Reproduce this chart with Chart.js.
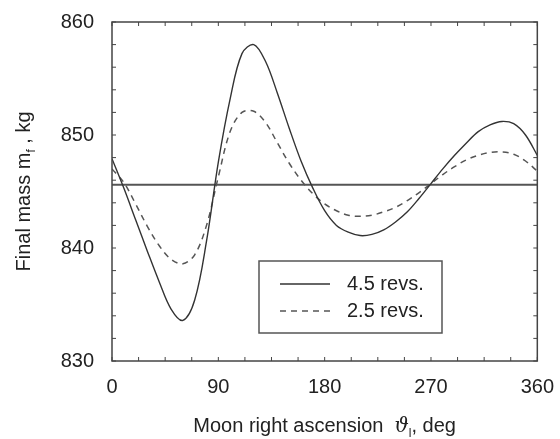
<!DOCTYPE html>
<html>
<head>
<meta charset="utf-8">
<script src="https://cdn.jsdelivr.net/npm/chart.js@4.4.0/dist/chart.umd.min.js"></script>
<style>
  html, body { margin: 0; padding: 0; background: #fff; }
  #wrap { width: 560px; height: 439px; }
</style>
</head>
<body>
<div id="wrap"><canvas id="chart" width="560" height="439"></canvas></div>
<script>
// data
var angles = [0, 10, 20, 30, 40, 50, 60, 70, 80, 90, 100, 110, 120, 130, 140, 150, 160, 170, 180,
  190, 200, 210, 220, 230, 240, 250, 260, 270, 280, 290, 300, 310, 320, 330, 340, 350, 360];
var mass45 = [847.9, 845.3, 842.5, 839.7, 837.0, 834.6, 833.6, 835.4, 840.6, 847.6, 853.2, 857.2, 858.0,
  856.5, 853.7, 850.6, 847.7, 845.3, 843.3, 842.0, 841.4, 841.1, 841.2, 841.6, 842.3, 843.2, 844.4,
  845.7, 847.0, 848.2, 849.3, 850.3, 850.9, 851.2, 851.0, 850.0, 848.2];
var mass25 = [847.0, 845.8, 843.9, 841.9, 840.2, 839.0, 838.6, 839.4, 842.0, 846.3, 850.3, 852.0, 852.1,
  851.1, 849.3, 847.5, 846.0, 844.8, 843.9, 843.3, 842.9, 842.8, 842.9, 843.2, 843.6, 844.2, 844.9,
  845.7, 846.5, 847.2, 847.8, 848.2, 848.45, 848.5, 848.3, 847.7, 846.8];
var refMass = 845.6;
var seriesLabels = ["4.5 revs.", "2.5 revs."];
var xTicks = [0, 90, 180, 270, 360];
var yTicks = [830, 840, 850, 860];

var FONT = "Liberation Sans, Arial, sans-serif";
var INK = "#222";

function pts(ys) {
  return angles.map(function (a, i) { return { x: a, y: ys[i] }; });
}

// frame, inward ticks, legend box and axis titles
var decor = {
  id: "decor",
  afterDraw: function (chart) {
    var ctx = chart.ctx, a = chart.chartArea;
    var xs = chart.scales.x, ys = chart.scales.y;
    ctx.save();
    ctx.strokeStyle = "#444";
    ctx.lineWidth = 1.5;
    ctx.strokeRect(a.left, a.top, a.right - a.left, a.bottom - a.top);

    ctx.lineWidth = 1;
    ctx.beginPath();
    for (var v = 0; v <= 360; v += 22.5) {
      var px = xs.getPixelForValue(v);
      ctx.moveTo(px, a.bottom); ctx.lineTo(px, a.bottom - 4);
      ctx.moveTo(px, a.top); ctx.lineTo(px, a.top + 4);
    }
    for (var m = 830; m <= 860; m += 2) {
      var py = ys.getPixelForValue(m);
      ctx.moveTo(a.left, py); ctx.lineTo(a.left + 4, py);
      ctx.moveTo(a.right, py); ctx.lineTo(a.right - 4, py);
    }
    ctx.stroke();

    // legend
    var bx = 259, by = 261, bw = 183, bh = 72;
    ctx.fillStyle = "#fff";
    ctx.fillRect(bx, by, bw, bh);
    ctx.strokeStyle = "#555";
    ctx.lineWidth = 1.5;
    ctx.strokeRect(bx, by, bw, bh);
    ctx.font = "20px " + FONT;
    ctx.textBaseline = "middle";
    [0, 1].forEach(function (i) {
      var ds = chart.data.datasets[i];
      var ly = by + 23 + i * 27;
      ctx.strokeStyle = ds.borderColor;
      ctx.lineWidth = ds.borderWidth;
      ctx.setLineDash(ds.borderDash || []);
      ctx.beginPath();
      ctx.moveTo(bx + 21, ly); ctx.lineTo(bx + 71, ly);
      ctx.stroke();
      ctx.setLineDash([]);
      ctx.fillStyle = INK;
      ctx.textAlign = "left";
      ctx.fillText(ds.label, bx + 88, ly);
    });

    // axis titles with subscripts
    function runs(parts, x, y) {
      var w = 0;
      parts.forEach(function (p) { ctx.font = p.f; w += ctx.measureText(p.t).width; });
      var cx = x - w / 2;
      parts.forEach(function (p) {
        ctx.font = p.f;
        ctx.fillText(p.t, cx, y + (p.dy || 0));
        cx += ctx.measureText(p.t).width;
      });
    }
    ctx.fillStyle = INK;
    ctx.textAlign = "left";
    ctx.textBaseline = "alphabetic";
    var big = "20px " + FONT, small = "12px " + FONT;
    runs([
      { t: "Moon right ascension  ", f: big },
      { t: "\u03D1", f: "italic 20px DejaVu Serif, serif" },
      { t: "l", f: small, dy: 5 },
      { t: ", deg", f: big }
    ], (a.left + a.right) / 2, 432);

    ctx.translate(30, (a.top + a.bottom) / 2);
    ctx.rotate(-Math.PI / 2);
    runs([
      { t: "Final mass m", f: big },
      { t: "f", f: small, dy: 5 },
      { t: " , kg", f: big }
    ], 0, 0);
    ctx.restore();
  }
};

new Chart(document.getElementById("chart"), {
  type: "line",
  data: {
    datasets: [
      { label: seriesLabels[0], data: pts(mass45), borderColor: "#333", borderWidth: 1.4,
        pointRadius: 0, tension: 0.35, fill: false },
      { label: seriesLabels[1], data: pts(mass25), borderColor: "#555", borderWidth: 1.5,
        borderDash: [6, 5], pointRadius: 0, tension: 0.35, fill: false },
      { label: "ref", data: [{ x: 0, y: refMass }, { x: 360, y: refMass }], borderColor: "#555",
        borderWidth: 2, pointRadius: 0, fill: false }
    ]
  },
  plugins: [decor],
  options: {
    responsive: false,
    animation: false,
    layout: { padding: { left: 0, right: 18, top: 16, bottom: 0 } },
    plugins: { legend: { display: false }, tooltip: { enabled: false }, title: { display: false } },
    scales: {
      x: {
        type: "linear", min: 0, max: 360,
        afterBuildTicks: function (s) { s.ticks = xTicks.map(function (v) { return { value: v }; }); },
        afterFit: function (s) { s.height = 78; },
        grid: { display: false }, border: { display: false },
        ticks: { color: INK, font: { family: FONT, size: 20 }, padding: 6, maxRotation: 0 }
      },
      y: {
        min: 830, max: 860,
        afterBuildTicks: function (s) { s.ticks = yTicks.map(function (v) { return { value: v }; }); },
        afterFit: function (s) { s.width = 112; },
        grid: { display: false }, border: { display: false },
        ticks: { color: INK, font: { family: FONT, size: 20 }, padding: 10 }
      }
    }
  }
});
</script>
</body>
</html>
